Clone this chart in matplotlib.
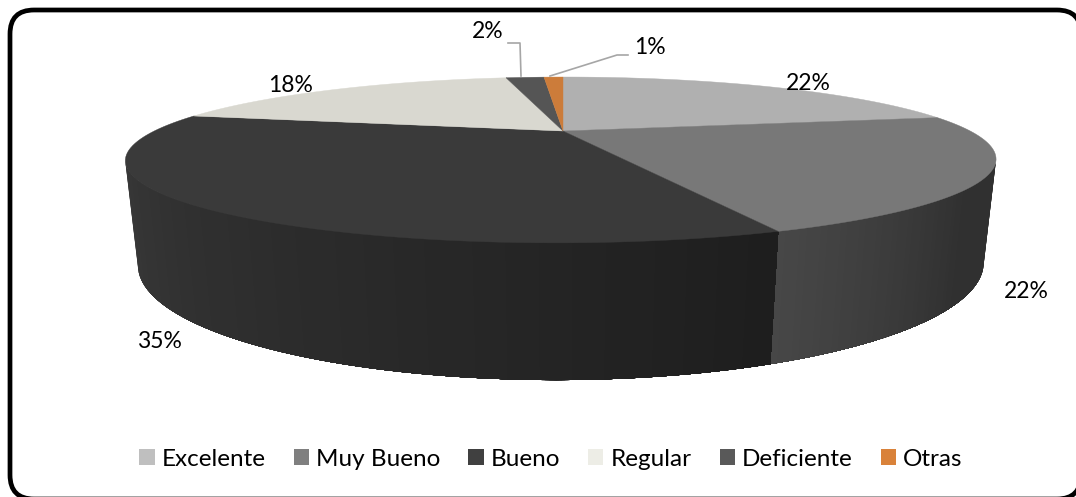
import numpy as np
import matplotlib
matplotlib.use("Agg")
import matplotlib.pyplot as plt
from matplotlib.patches import FancyBboxPatch, Patch

categories = ["Excelente", "Muy Bueno", "Bueno", "Regular", "Deficiente", "Otras"]
values = [22.0, 22.2, 34.5, 18.3, 2.0, 1.0]
labels = ["22%", "22%", "35%", "18%", "2%", "1%"]

top_colors = ["#b0b0b0", "#787878", "#3a3a3a", "#d9d8d0", "#555555", "#cc7c3a"]
legend_colors = ["#bfbfbf", "#7f7f7f", "#404040", "#edede6", "#595959", "#d9823a"]
label_pos = [(808, 83), (1026, 291), (159, 341), (291, 86), (488, 32), (650, 48)]

plt.rcParams["font.family"] = ["Lato", "DejaVu Sans"]


# perspective of the pie disc, h=0 is the top face and h=1 the bottom face
def project(angle, h=0.0, r=1.0):
    u = r * np.sin(angle)
    v = r * np.cos(angle)
    den = 1 + 0.349 * v + 0.005 * u + 0.026 * h
    x = 563 + 408 * u / den
    y = (131 - 27.1 * v + 99.2 * h) / den
    return x, y


def wall_color(slice_idx, t):
    # t goes from 0 at the far end of the wall to 1 at the front edge
    if slice_idx == 2:
        grey = 0x38 + (0x1e - 0x38) * t
    else:
        grey = 0x30 + (0x47 - 0x30) * max(t - 0.4, 0) / 0.6
    return (grey / 255, grey / 255, grey / 255)


fig = plt.figure(figsize=(10.76, 4.97), dpi=100)
ax = fig.add_axes([0, 0, 1, 1])
ax.set_xlim(0, 1076)
ax.set_ylim(497, 0)
ax.axis("off")

# the frame runs off the right and bottom of the picture
ax.add_patch(FancyBboxPatch((10, 10), 1071, 489, boxstyle="round,pad=0,rounding_size=24",
                            facecolor="white", edgecolor="black", lw=3.4, zorder=0))

angles = 2 * np.pi * np.cumsum([0] + values) / sum(values)
# only the front part of the side is visible, between the silhouette points
right_edge = np.pi / 2 + np.arcsin(0.345)
left_edge = 3 * np.pi / 2 - np.arcsin(0.345)

for i in range(len(values)):
    a0 = max(angles[i], right_edge)
    a1 = min(angles[i + 1], left_edge)
    if a1 <= a0:
        continue
    steps = np.linspace(a0, a1, 60)
    if i == 2:
        steps = steps[::-1]
    # every strip runs on to the front edge so no seams show between them
    for j in range(len(steps) - 1):
        t = j / (len(steps) - 2)
        xt, yt = project(steps[j:])
        xb, yb = project(steps[j:], h=1.0)
        ax.fill(np.r_[xt, xb[::-1]], np.r_[yt, yb[::-1]], color=wall_color(i, t), lw=0, zorder=2)

for i in range(len(values)):
    arc = np.linspace(angles[i], angles[i + 1], 80)
    x, y = project(arc)
    cx, cy = project(0.0, r=0.0)
    ax.fill(np.r_[cx, x], np.r_[cy, y], color=top_colors[i], lw=0.3, zorder=3)

for lab, (lx, ly) in zip(labels, label_pos):
    ax.text(lx, ly, lab, ha="center", va="center", fontsize=16.5, color="black", zorder=5)

# leader lines of the two small slices
ax.plot([508, 520, 521], [43, 43, 76], color="#a6a6a6", lw=1.2, zorder=4)
ax.plot([628, 617, 550], [55, 55, 76], color="#a6a6a6", lw=1.2, zorder=4)

handles = [Patch(facecolor=c, edgecolor="none", label=n) for c, n in zip(legend_colors, categories)]
ax.legend(handles=handles, ncol=6, loc="center", bbox_to_anchor=(551 / 1076, 1 - 459 / 497), frameon=False,
          fontsize=17.5, handlelength=0.62, handleheight=0.62, handletextpad=0.3, columnspacing=1.15, borderpad=0)

fig.savefig("out.png", dpi=100)
